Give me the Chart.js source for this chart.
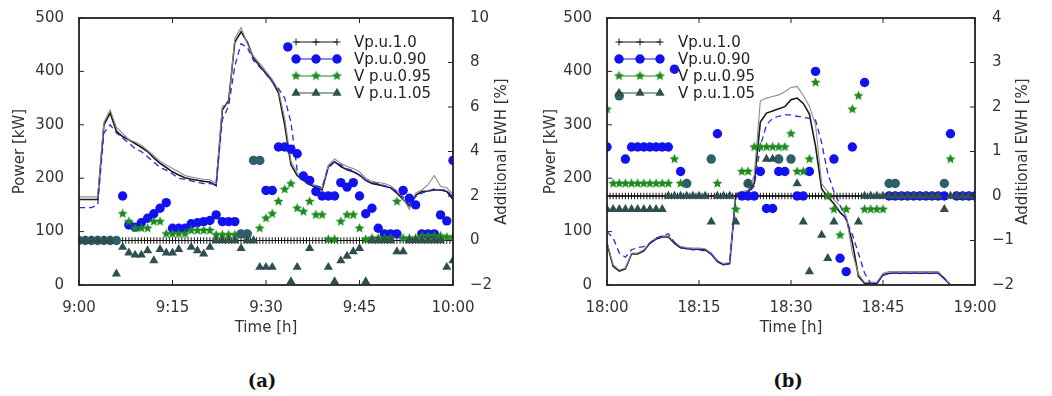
<!DOCTYPE html>
<html><head><meta charset="utf-8">
<script src="https://cdn.jsdelivr.net/npm/chart.js@4.4.1/dist/chart.umd.min.js"></script>
<style>
html,body{margin:0;padding:0;background:#fff;}
#wrap{position:relative;width:1052px;height:396px;overflow:hidden;background:#fff;}
.pane{position:absolute;top:0;width:526px;height:345px;}
#pa{left:0}#pb{left:526px}
.cap{position:absolute;top:370px;width:100px;text-align:center;font:bold 18px "DejaVu Serif";color:#111;line-height:22px;}
</style></head><body>
<div id="wrap">
<div class="pane" id="pa"><canvas id="ca" width="526" height="345"></canvas></div>
<div class="pane" id="pb"><canvas id="cb" width="526" height="345"></canvas></div>
<div class="cap" style="left:212px">(a)</div>
<div class="cap" style="left:738px">(b)</div>
</div>
<script>
// ---------- shared axes data ----------
const minutes = [0,1,2,3,4,5,6,7,8,9,10,11,12,13,14,15,16,17,18,19,20,21,22,23,24,25,26,27,28,29,30,31,32,33,34,35,36,37,38,39,40,41,42,43,44,45,46,47,48,49,50,51,52,53,54,55,56,57,58,59,60];
const halfMinutes = [0,0.5,1,1.5,2,2.5,3,3.5,4,4.5,5,5.5,6,6.5,7,7.5,8,8.5,9,9.5,
10,10.5,11,11.5,12,12.5,13,13.5,14,14.5,15,15.5,16,16.5,17,17.5,18,18.5,19,19.5,
20,20.5,21,21.5,22,22.5,23,23.5,24,24.5,25,25.5,26,26.5,27,27.5,28,28.5,29,29.5,
30,30.5,31,31.5,32,32.5,33,33.5,34,34.5,35,35.5,36,36.5,37,37.5,38,38.5,39,39.5,
40,40.5,41,41.5,42,42.5,43,43.5,44,44.5,45,45.5,46,46.5,47,47.5,48,48.5,49,49.5,
50,50.5,51,51.5,52,52.5,53,53.5,54,54.5,55,55.5,56,56.5,57,57.5,58,58.5,59,59.5,60];
const ticksA = ['9:00','9:15','9:30','9:45','10:00'];
const ticksB = ['18:00','18:15','18:30','18:45','19:00'];
const ewhTicksA = [-2,0,2,4,6,8,10];
const ewhTicksB = [-2,-1,0,1,2,3,4];
const seriesLabels = ['Vp.u.1.0','Vp.u.0.90','V p.u.0.95','V p.u.1.05'];

// ---------- panel (a): power [kW] ----------
const powerA_v100 = [160,160,160,160,300,322,288,278,272,265, 258,250,238,228,220,212,206,201,198,196, 194,193,186,328,345,455,474,455,425,410, 396,382,360,300,225,205,196,188,183,178, 222,231,222,216,212,206,196,190,188,185, 182,172,160,148,168,175,176,178,178,175,160];
const powerA_v105 = [165,165,165,165,305,328,295,284,272,268, 262,252,242,232,225,218,212,205,202,200, 198,197,190,335,340,462,482,452,428,415, 400,385,365,312,232,210,200,192,186,182, 224,236,228,222,218,212,200,194,192,190, 186,176,162,142,172,178,188,205,185,182,170];
const powerA_v090 = [145,145,145,150,285,300,285,275,266,255, 250,240,230,220,215,208,200,198,195,192, 190,190,188,310,335,410,452,445,420,408, 395,380,368,350,305,215,200,192,186,182, 220,230,225,218,214,205,196,192,190,186, 182,175,165,150,165,172,176,180,178,178,165];
// ---------- panel (a): additional EWH [%] ----------
const ewhA_v100 = [0,0,0,0,0,0,0,0,0,0,0,0,0,0,0,0,0,0,0,0,
0,0,0,0,0,0,0,0,0,0,0,0,0,0,0,0,0,0,0,0,
0,0,0,0,0,0,0,0,0,0,0,0,0,0,0,0,0,0,0,0,
0,0,0,0,0,0,0,0,0,0,0,0,0,0,0,0,0,0,0,0,
0,0,0,0,0,0,0,0,0,0,0,0,0,0,0,0,0,0,0,0,
0,0,0,0,0,0,0,0,0,0,0,0,0,0,0,0,0,0,0,0,0];
const ewhA_v090 = [null,null,null,null,null,null,null,2.0,0.7,0.6, 0.8,1.0,1.2,1.45,1.7,0.55,0.55,0.55,0.75,0.8, 0.85,0.9,1.15,0.85,0.85,0.85,null,null,null,null, 2.25,2.25,4.2,4.2,4.1,3.9,2.9,2.7,2.2,2.0, 2.0,2.0,2.6,2.4,2.6,2.0,1.2,1.45,0.55,0.3, 0.3,0.3,2.25,1.9,1.6,0.3,0.3,0.3,1.15,0.88,3.6];
const ewhA_v090_extraMin = [33.5];
const ewhA_v090_extraVal = [8.7];
const ewhA_v095 = [null,null,null,null,null,null,null,1.2,0.85,0.55, 0.55,0.55,0.85,0.85,0.3,0.3,0.3,0.3,0.45,0.45, 0.45,0.45,0.25,0.25,0.25,0.25,0.3,0.3,null,0.55, 1.0,1.2,1.75,2.3,2.55,1.45,1.3,1.75,1.15,1.15, 0.05,0.05,0.85,1.15,1.15,0.55,0.05,0.1,0.1,0.1, 0.1,1.75,0.1,0.1,0.1,0.2,0.2,0.2,0.2,0.15,0.15];
const ewhA_v105 = [0,0,0,0,0,0,-1.5,-0.3,-0.55,-0.65, -0.65,-0.45,-0.9,-0.4,-0.55,-0.55,-0.4,null,-0.3,-0.45, -0.6,-0.3,0,0,0,0,-0.35,0,0,-1.2, -1.2,-1.2,null,null,-1.85,-1.2,null,-0.35,null,null, -1.2,-1.85,-0.9,-0.7,-0.5,-0.35,-1.85,0,0,0, 0,-0.5,-0.5,0,0,0,0,0,0,-1.2,-0.9];
const ewhA_overlap = [0,0,0,0,0,0,0,null,null,null, null,null,null,null,null,null,null,null,null,null, null,null,null,null,null,null,0.3,0.3,3.6,3.6, null,null,null,null,null,null,null,null,null,null, null,null,null,null,null,null,null,null,null,null, null,null,null,null,null,null,null,null,null,null,null];

// ---------- panel (b): power [kW] ----------
const powerB_v100 = [78,35,26,30,58,58,64,78,86,90, 90,78,70,68,67,67,66,58,44,38, 40,170,172,174,190,305,322,326,330,334, 347,350,340,320,260,180,165,152,136,125, 80,16,3,3,3,19,22,22,22,22, 22,22,22,22,22,12,0,0,0,0,0];
const powerB_v105 = [80,38,28,32,60,60,66,80,88,92, 92,80,72,70,69,69,68,60,46,40, 42,172,175,178,205,345,350,353,356,362, 370,372,355,335,300,190,175,160,148,130, 60,20,5,5,5,22,25,25,25,25, 25,25,25,25,25,14,0,0,0,0,0];
const powerB_v090 = [100,88,60,52,66,70,72,78,88,92, 96,80,70,68,66,66,64,58,44,38, 40,165,170,172,185,260,300,312,316,319, 318,316,314,312,309,266,209,175,150,120, 95,59,22,3,3,18,22,22,22,22, 22,22,22,22,22,12,0,0,0,0,0];
// ---------- panel (b): additional EWH [%] ----------
const ewhB_v100 = ewhA_v100;
const ewhB_v090 = [1.1,null,null,0.83,1.1,1.1,1.1,1.1,1.1,1.1, 1.1,2.85,0.55,null,null,null,null,null,1.4,null, null,null,0,0,0,0.55,-0.28,-0.28,0.55,0.55, null,0,0,0.55,2.8,null,null,0.83,-1.4,-1.7, 1.1,null,2.55,null,null,null,0,0,0,0, 0,0,0,0,0,0,1.4,0,0,0,0];
const ewhB_v095 = [1.95,0.28,0.28,0.28,0.28,0.28,0.28,0.28,0.28,0.28, 0.28,0.83,0.28,0.28,null,null,null,null,0.28,null, null,-0.3,0.55,0.55,1.1,1.1,1.1,1.1,1.1,1.1, 1.4,0.55,0.55,0.83,2.55,null,0,-0.3,-0.88,-0.3, 1.95,2.25,-0.3,-0.3,-0.3,-0.3,null,null,null,null, null,null,null,null,null,null,0.83,null,null,null,null];
const ewhB_v105 = [-0.3,-0.3,-0.3,-0.3,-0.3,-0.3,-0.3,-0.3,-0.3,-0.3, 0,0,0,0,0,0,0,-0.58,0,0, 0,-0.58,null,0.28,null,null,0.83,0.83,null,null, null,0.28,-0.58,-1.7,null,-0.88,-1.4,-0.58,null,null, null,-0.58,0,0,0,0,0,0,0,0, 0,0,0,0,0,-0.3,0,0,0,0,0];
const ewhB_overlap = [null,null,2.25,null,null,null,null,null,null,null, null,null,null,0.28,null,null,null,0.83,null,null, null,null,null,0.28,null,null,null,null,0.83,null, 0.83,null,null,null,null,null,null,null,null,null, null,null,null,null,null,null,0.28,0.28,null,null, null,null,null,null,null,0.28,null,null,null,null,null];

// ---------- helpers ----------
const FONT = '"DejaVu Sans"';
const FS = 15;
Chart.defaults.font.family = FONT;
const C_BLUE = '#1212ee', C_GREEN = '#1c8a1c', C_SLATE = '#2f4f4f', C_TEAL = '#2d6068', C_BLACK = '#151515';
const R_CIRCLE = 4.7, R_TRI = 5.3, R_STAR = 5.2;

function pts(xs, ys){
  const out = [];
  xs.forEach((x,i)=>{ if(ys[i] !== null && ys[i] !== undefined) out.push({x:x, y:ys[i]}); });
  return out;
}
function starImg(color, r){
  const s = Math.ceil(r*2+2);
  const c = document.createElement('canvas'); c.width = s; c.height = s;
  const g = c.getContext('2d'); g.translate(s/2, s/2); g.beginPath();
  for(let i=0;i<10;i++){ const rr = i%2 ? r*0.45 : r; const a = -Math.PI/2 + i*Math.PI/5; g.lineTo(rr*Math.cos(a), rr*Math.sin(a)); }
  g.closePath(); g.fillStyle = color; g.fill(); return c;
}
const STAR = starImg(C_GREEN, R_STAR);

function drawMarker(ctx, kind, x, y){
  ctx.save();
  if(kind==='circle'){ ctx.fillStyle=C_BLUE; ctx.beginPath(); ctx.arc(x,y,R_CIRCLE,0,Math.PI*2); ctx.fill(); }
  else if(kind==='triangle'){ const r=R_TRI; ctx.fillStyle=C_SLATE; ctx.beginPath(); ctx.moveTo(x,y-r); ctx.lineTo(x+r*0.866,y+r*0.5); ctx.lineTo(x-r*0.866,y+r*0.5); ctx.closePath(); ctx.fill(); }
  else if(kind==='cross'){ ctx.strokeStyle=C_BLACK; ctx.lineWidth=1; ctx.beginPath(); ctx.moveTo(x-3.5,y); ctx.lineTo(x+3.5,y); ctx.moveTo(x,y-3.5); ctx.lineTo(x,y+3.5); ctx.stroke(); }
  else if(kind==='star'){ ctx.drawImage(STAR, x-STAR.width/2, y-STAR.height/2); }
  ctx.restore();
}

function decor(conf){
  return {
    id: 'decor',
    afterDraw(chart){
      const ctx = chart.ctx, a = chart.chartArea;
      const sx = chart.scales.x, sy = chart.scales.y, s1 = chart.scales.y1;
      ctx.save();
      ctx.strokeStyle = '#222'; ctx.lineWidth = 1;
      ctx.beginPath();
      sx.ticks.forEach(t=>{ const p = sx.getPixelForValue(t.value); ctx.moveTo(p,a.bottom); ctx.lineTo(p,a.bottom-5); ctx.moveTo(p,a.top); ctx.lineTo(p,a.top+5); });
      sy.ticks.forEach(t=>{ const p = sy.getPixelForValue(t.value); ctx.moveTo(a.left,p); ctx.lineTo(a.left+5,p); });
      s1.ticks.forEach(t=>{ const p = s1.getPixelForValue(t.value); ctx.moveTo(a.right,p); ctx.lineTo(a.right-5,p); });
      ctx.stroke();
      ctx.lineWidth = 1.8; ctx.strokeStyle = '#222';
      ctx.strokeRect(a.left, a.top, a.right-a.left, a.bottom-a.top);
      // right axis title (reads bottom-to-top)
      ctx.save();
      ctx.fillStyle = '#333'; ctx.font = FS + 'px ' + FONT; ctx.textAlign = 'center'; ctx.textBaseline = 'middle';
      ctx.translate(conf.rightTitleX, (a.top+a.bottom)/2); ctx.rotate(-Math.PI/2);
      ctx.fillText('Additional EWH [%]', 0, 0);
      ctx.restore();
      // legend
      const kinds = ['cross','circle','star','triangle'];
      const lineCols = [C_BLACK, C_BLUE, C_GREEN, C_SLATE];
      const mx = conf.legendMarkers;
      seriesLabels.forEach((lab,i)=>{
        const y = conf.legendRows[i];
        ctx.strokeStyle = lineCols[i]; ctx.lineWidth = 1.2;
        ctx.beginPath(); ctx.moveTo(mx[0], y); ctx.lineTo(mx[2], y); ctx.stroke();
        mx.forEach(x=>drawMarker(ctx, kinds[i], x, y));
        ctx.fillStyle = '#222'; ctx.font = FS + 'px ' + FONT; ctx.textAlign = 'left'; ctx.textBaseline = 'middle';
        ctx.fillText(lab, conf.legendText, y+1);
      });
      ctx.restore();
    }
  };
}

function makeChart(id, d){
  const tickFont = {family: FONT, size: FS};
  return new Chart(document.getElementById(id), {
    type: 'scatter',
    data: { datasets: [
      { label: seriesLabels[3], data: pts(minutes, d.v105), yAxisID: 'y1', showLine: false,
        pointStyle: 'triangle', pointRadius: R_TRI, backgroundColor: C_SLATE, borderColor: C_SLATE, pointBorderWidth: 0 },
      { label: 'overlap', data: pts(minutes, d.overlap), yAxisID: 'y1', showLine: false,
        pointStyle: 'circle', pointRadius: R_CIRCLE, backgroundColor: C_TEAL, borderColor: C_TEAL, pointBorderWidth: 0 },
      { label: seriesLabels[2], data: pts(minutes, d.v095), yAxisID: 'y1', showLine: false,
        pointStyle: STAR, pointRadius: R_STAR, backgroundColor: C_GREEN, borderColor: C_GREEN },
      { label: seriesLabels[1], data: pts(minutes, d.v090).concat(pts(d.extraMin, d.extraVal)), yAxisID: 'y1', showLine: false,
        pointStyle: 'circle', pointRadius: R_CIRCLE, backgroundColor: C_BLUE, borderColor: C_BLUE, pointBorderWidth: 0 },
      { label: seriesLabels[0], data: pts(halfMinutes, d.v100), yAxisID: 'y1', showLine: true,
        borderColor: C_BLACK, borderWidth: 1, pointStyle: 'cross', pointRadius: 3.3,
        pointBackgroundColor: C_BLACK, pointBorderColor: C_BLACK, pointBorderWidth: 1 },
      { label: 'P 0.90', data: pts(minutes, d.p090), yAxisID: 'y', showLine: true, borderColor: '#2a2ae0',
        borderWidth: 1.3, borderDash: [6,4], pointRadius: 0, tension: 0 },
      { label: 'P 1.05', data: pts(minutes, d.p105), yAxisID: 'y', showLine: true, borderColor: '#8c8c8c',
        borderWidth: 1.1, pointRadius: 0, tension: 0 },
      { label: 'P 1.0', data: pts(minutes, d.p100), yAxisID: 'y', showLine: true, borderColor: '#1a1a1a',
        borderWidth: 1.6, pointRadius: 0, tension: 0 }
    ]},
    options: {
      responsive: false, animation: false, devicePixelRatio: 1,
      layout: { padding: { top: 18, left: 0, right: 0, bottom: 0 } },
      plugins: { legend: { display: false }, tooltip: { enabled: false } },
      scales: {
        x: { type: 'linear', min: 0, max: 60, grid: { display: false }, border: { display: false },
             ticks: { stepSize: 15, padding: 6, color: '#333', font: tickFont, maxRotation: 0,
                      callback: v => d.xLabels[Math.round(v/15)] },
             title: { display: true, text: 'Time [h]', color: '#333', font: tickFont, padding: { top: 0, bottom: 8 } },
             afterFit: s => { s.height = 60; } },
        y: { position: 'left', min: 0, max: 500, grid: { display: false }, border: { display: false },
             ticks: { stepSize: 100, padding: 7, color: '#333', font: tickFont },
             title: { display: true, text: 'Power [kW]', color: '#333', font: tickFont, padding: { top: d.leftTitlePad, bottom: 0 } },
             afterFit: s => { s.width = d.leftW; } },
        y1: { position: 'right', min: d.ewhTicks[0], max: d.ewhTicks[d.ewhTicks.length-1], grid: { display: false }, border: { display: false },
              afterBuildTicks: s => { s.ticks = d.ewhTicks.map(v => ({ value: v })); },
              ticks: { padding: 9, color: '#333', font: tickFont, callback: v => String(v).replace('-', '\u2212') },
              afterFit: s => { s.width = d.rightW; } }
      }
    },
    plugins: [decor(d)]
  });
}

makeChart('ca', {
  v100: ewhA_v100, v090: ewhA_v090, v095: ewhA_v095, v105: ewhA_v105, overlap: ewhA_overlap,
  extraMin: ewhA_v090_extraMin, extraVal: ewhA_v090_extraVal,
  p100: powerA_v100, p105: powerA_v105, p090: powerA_v090,
  xLabels: ticksA, ewhTicks: ewhTicksA,
  leftW: 79, rightW: 73, leftTitlePad: 11, rightTitleX: 502,
  legendMarkers: [296, 316, 337], legendText: 354, legendRows: [42, 59, 76, 93]
});
makeChart('cb', {
  v100: ewhB_v100, v090: ewhB_v090, v095: ewhB_v095, v105: ewhB_v105, overlap: ewhB_overlap,
  extraMin: [], extraVal: [],
  p100: powerB_v100, p105: powerB_v105, p090: powerB_v090,
  xLabels: ticksB, ewhTicks: ewhTicksB,
  leftW: 81, rightW: 77, leftTitlePad: 16, rightTitleX: 497,
  legendMarkers: [93, 114, 134], legendText: 152, legendRows: [42, 59, 76, 93]
});
</script>
</body></html>
